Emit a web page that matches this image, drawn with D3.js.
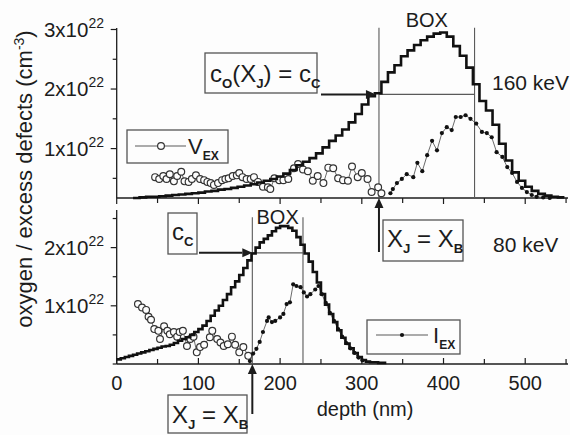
<!DOCTYPE html>
<html><head><meta charset="utf-8">
<script src="https://cdn.jsdelivr.net/npm/d3@7"></script>
<style>
html,body{margin:0;padding:0;background:#fdfdfd;}
svg{display:block;font-family:"Liberation Sans",Arial,Helvetica,sans-serif;}
</style></head><body>
<svg id="chart" width="570" height="435"></svg>
<script>
// ---- data (concentrations in units of 1e22 cm^-3, depth in nm) ----

// oxygen profile, 160 keV implant: stepped bins starting at 20 nm, 8 nm wide
const oxygen160Start = 20, oxygen160Bin = 8;
const oxygen160 = [0.17,0.18,0.19,0.19,0.20,0.21,0.22,0.23,0.24,0.25,
  0.26,0.28,0.29,0.31,0.32,0.34,0.36,0.38,0.40,0.43,
  0.46,0.49,0.53,0.58,0.64,0.72,0.78,0.84,0.92,1.02,
  1.13,1.22,1.32,1.44,1.58,1.74,1.88,1.93,2.12,2.28,
  2.40,2.55,2.65,2.74,2.82,2.88,2.93,2.95,2.88,2.72,
  2.56,2.36,2.08,1.80,1.64,1.40,1.08,0.80,0.60,0.46,
  0.36,0.29,0.24,0.21,0.19,0.18];

// oxygen profile, 80 keV implant: stepped bins starting at 0 nm, 5 nm wide
const oxygen80Start = 0, oxygen80Bin = 5;
const oxygen80 = [0.08,0.10,0.12,0.14,0.16,0.18,0.20,0.22,0.24,0.26,
  0.28,0.30,0.31,0.33,0.36,0.40,0.43,0.46,0.50,0.55,
  0.60,0.66,0.74,0.83,0.92,1.00,1.10,1.20,1.32,1.42,
  1.53,1.65,1.78,1.90,2.00,2.09,2.15,2.21,2.28,2.34,
  2.37,2.37,2.34,2.29,2.18,2.05,1.90,1.76,1.58,1.40,
  1.20,1.02,0.86,0.72,0.58,0.45,0.35,0.27,0.19,0.12,
  0.07,0.04,0.03,0.03,0.02,0.02];

// excess vacancies, 160 keV
const vex160Depth = [47,52,57,61,65,70,74,79,83,88,92,97,102,107,111,115,119,124,129,133,
  137,142,147,150,154,159,164,168,173,179,185,188,193,199,204,210,217,222,228,234,
  240,246,253,259,265,271,277,283,288,295,300,307,312,320,324];
const vex160 = [0.52,0.49,0.54,0.49,0.57,0.45,0.54,0.61,0.45,0.44,0.49,0.55,0.49,0.47,0.44,0.42,0.39,0.42,0.47,0.49,
  0.50,0.54,0.55,0.59,0.52,0.49,0.49,0.52,0.44,0.36,0.35,0.32,0.50,0.47,0.47,0.49,0.67,0.74,0.65,0.62,
  0.46,0.54,0.42,0.68,0.67,0.50,0.47,0.46,0.70,0.52,0.59,0.49,0.27,0.35,0.25];

// excess interstitials, 160 keV
const iex160Depth = [335,338,343,349,355,363,368,374,380,386,392,398,404,410,415,421,427,433,440,447,
  453,459,465,472,478,484,490,496,502,508,514,522,530];
const iex160 = [0.25,0.32,0.42,0.49,0.57,0.52,0.76,0.62,0.89,1.13,0.97,1.26,1.36,1.31,1.53,1.53,1.56,1.50,1.42,1.28,
  1.26,1.19,0.94,0.86,0.69,0.59,0.44,0.34,0.27,0.22,0.19,0.18,0.17];

// excess vacancies, 80 keV
const vex80Depth = [26,31,36,39,42,46,51,53,58,62,65,70,74,77,81,86,90,94,98,102,
  107,114,117,123,127,131,136,141,145,150,155,161];
const vex80 = [1.03,0.97,0.93,0.81,0.76,0.60,0.57,0.43,0.65,0.57,0.51,0.55,0.47,0.55,0.57,0.31,0.43,0.47,0.20,0.29,
  0.33,0.46,0.57,0.43,0.37,0.31,0.34,0.47,0.33,0.20,0.29,0.14];

// excess interstitials, 80 keV
const iex80Depth = [163,167,171,175,179,184,186,190,194,200,204,208,212,216,220,225,229,233,237,243,
  247,251,256,261,266,271,276,281,286,291,296,301];
const iex80 = [0.05,0.18,0.26,0.38,0.55,0.74,0.80,0.72,0.74,0.80,0.86,1.03,1.06,1.37,1.34,1.32,1.23,1.16,1.20,1.28,
  1.34,1.20,1.05,0.88,0.74,0.60,0.47,0.36,0.27,0.19,0.11,0.06];

// buried oxide boundaries (junction depth X_J = X_B) and critical concentration
const box160 = [321, 438];
const box80 = [166, 228];
const cC = 1.91;

// axis ticks
const depthTicks = [0,50,100,150,200,250,300,350,400,450,500,550];
const depthLabels = [0,100,200,300,400,500];
const topTicks = [0.5,1,1.5,2,2.5,3];
const topLabels = [1,2,3];
const botTicks = [0,0.5,1,1.5,2,2.5];
const botLabels = [1,2];

// ---- drawing ----
const svg = d3.select("#chart");
const ink = "#1c1c1c", thin = "#5a5a5a";

const x = d3.scaleLinear().domain([0, 552]).range([116.7, 567.7]);
const yTop = d3.scaleLinear().domain([0.17, 3.0]).range([198, 29.5]);
const yBot = d3.scaleLinear().domain([0, 2.655]).range([364, 209.5]);

// axes
function drawXAxis(y, inward) {
  const g = svg.append("g");
  g.append("line").attr("x1", x(0)).attr("x2", 568).attr("y1", y).attr("y2", y)
    .attr("stroke", ink).attr("stroke-width", 1.3);
  g.selectAll("line.t").data(depthTicks).join("line").attr("class","t")
    .attr("x1", d => x(d)).attr("x2", d => x(d))
    .attr("y1", y).attr("y2", d => y + (inward ? -1 : 1) * (d % 100 === 0 ? 6 : 5))
    .attr("stroke", ink).attr("stroke-width", 1.2);
  return g;
}
function drawYAxis(scale, y0, y1, ticks, labeled) {
  const g = svg.append("g");
  g.append("line").attr("x1", x(0)).attr("x2", x(0)).attr("y1", y0).attr("y2", y1)
    .attr("stroke", ink).attr("stroke-width", 1.3);
  g.selectAll("line.t").data(ticks).join("line").attr("class","t")
    .attr("x1", x(0)).attr("x2", d => x(0) - (labeled.includes(d) ? 6 : 4))
    .attr("y1", d => scale(d)).attr("y2", d => scale(d))
    .attr("stroke", ink).attr("stroke-width", 1.2);
  labeled.forEach(v => {
    const t = g.append("text").attr("x", 104).attr("y", scale(v) + 7)
      .attr("text-anchor", "end").attr("font-size", 20.5).attr("fill", ink);
    t.append("tspan").text(v + "x10");
    t.append("tspan").attr("dy", -9).attr("font-size", 14).text("22");
  });
}

drawXAxis(yTop(0.17), false);
const xb = drawXAxis(yBot(0), true);
xb.selectAll("text").data(depthLabels).join("text")
  .attr("x", d => x(d)).attr("y", 390).attr("text-anchor", "middle")
  .attr("font-size", 20).attr("fill", ink).text(d => d);
drawYAxis(yTop, yTop(0.17), 28, topTicks, topLabels);
drawYAxis(yBot, yBot(0), 210, botTicks, botLabels);

svg.append("text").attr("x", 365).attr("y", 416).attr("text-anchor", "middle")
  .attr("font-size", 20).attr("fill", ink).text("depth (nm)");

const yl = svg.append("text").attr("transform", "translate(32,179) rotate(-90)")
  .attr("text-anchor", "middle").attr("font-size", 22).attr("fill", ink);
yl.append("tspan").text("oxygen / excess defects (cm");
yl.append("tspan").attr("dy", -8).attr("font-size", 14).text("-3");
yl.append("tspan").attr("dy", 8).text(")");

// BOX boundary markers
function boxMarkers(y, box, top, bottom, label, labelY) {
  box.forEach(d => svg.append("line").attr("x1", x(d)).attr("x2", x(d))
    .attr("y1", y(top)).attr("y2", y(bottom)).attr("stroke", thin).attr("stroke-width", 1.1));
  svg.append("line").attr("x1", x(box[0])).attr("x2", x(box[1]))
    .attr("y1", y(cC)).attr("y2", y(cC)).attr("stroke", thin).attr("stroke-width", 1.1);
  svg.append("text").attr("x", (x(box[0]) + x(box[1])) / 2).attr("y", labelY)
    .attr("text-anchor", "middle").attr("font-size", 20).attr("fill", ink).text(label);
}
boxMarkers(yTop, box160, 3.03, 0.17, "BOX", 27);
boxMarkers(yBot, box80, 2.52, 0, "BOX", 224);

// profiles
function stepPoints(start, bin, vals) {
  const pts = vals.map((v, i) => [start + i * bin, v]);
  pts.push([start + vals.length * bin, vals[vals.length - 1]]);
  return pts;
}
function drawProfile(y, pts) {
  svg.append("path").datum(pts)
    .attr("d", d3.line().x(d => x(d[0])).y(d => y(d[1])).curve(d3.curveStepAfter))
    .attr("fill", "none").attr("stroke", "#111").attr("stroke-width", 2.6);
}
function drawSeries(y, depth, vals, open) {
  const pts = depth.map((d, i) => [d, vals[i]]);
  svg.append("path").datum(pts)
    .attr("d", d3.line().x(d => x(d[0])).y(d => y(d[1])))
    .attr("fill", "none").attr("stroke", thin).attr("stroke-width", 0.9);
  svg.append("g").selectAll("circle").data(pts).join("circle")
    .attr("cx", d => x(d[0])).attr("cy", d => y(d[1]))
    .attr("r", open ? 3.4 : 2.1)
    .attr("fill", open ? "#fdfdfd" : "#111")
    .attr("stroke", open ? "#333" : "none").attr("stroke-width", 1.2);
}

drawSeries(yTop, vex160Depth, vex160, true);
drawSeries(yTop, iex160Depth, iex160, false);
drawProfile(yTop, stepPoints(oxygen160Start, oxygen160Bin, oxygen160));

drawSeries(yBot, vex80Depth, vex80, true);
drawSeries(yBot, iex80Depth, iex80, false);
drawProfile(yBot, stepPoints(oxygen80Start, oxygen80Bin, oxygen80));

// arrows
function arrow(x1, y1, x2, y2) {
  const a = Math.atan2(y2 - y1, x2 - x1), L = 10, W = 4.5;
  const bx = x2 - L * Math.cos(a), by = y2 - L * Math.sin(a);
  svg.append("line").attr("x1", x1).attr("y1", y1).attr("x2", bx).attr("y2", by)
    .attr("stroke", ink).attr("stroke-width", 2);
  svg.append("path").attr("d",
    `M${x2},${y2}L${bx - W * Math.sin(a)},${by + W * Math.cos(a)}L${bx + W * Math.sin(a)},${by - W * Math.cos(a)}Z`)
    .attr("fill", ink);
}
arrow(321, yTop(cC), x(box160[0]) - 3, yTop(cC));
arrow(x(box160[0]), 252, x(box160[0]), yTop(0.17));
arrow(199, yBot(cC), x(box80[0]), yBot(cC));
arrow(x(box80[0]), 414, x(box80[0]), yBot(0));

// labelled boxes with subscripts
function rich(xp, yp, parts, size) {
  const t = svg.append("text").attr("x", xp).attr("y", yp).attr("font-size", size).attr("fill", ink);
  let shifted = false;
  parts.forEach(([s, sub]) => {
    const sp = t.append("tspan").text(s);
    if (sub && !shifted) { sp.attr("dy", 6).attr("font-size", size * 0.55).attr("font-weight", "bold"); shifted = true; }
    else if (!sub && shifted) { sp.attr("dy", -6); shifted = false; }
  });
  return t;
}
function frame(x0, y0, w, h) {
  svg.append("rect").attr("x", x0).attr("y", y0).attr("width", w).attr("height", h)
    .attr("fill", "#fdfdfd").attr("stroke", "#555").attr("stroke-width", 1.3);
}

frame(205, 53, 112, 40);
rich(210, 82, [["c"],["O",1],["(X"],["J",1],[") = c"],["C",1]], 24);

frame(383, 220, 80, 41);
rich(387, 247, [["X"],["J",1],[" = X"],["B",1]], 24);

frame(168, 213, 29, 41);
rich(172, 240, [["c"],["C",1]], 24);

frame(168, 395, 79, 38);
rich(172, 423, [["X"],["J",1],[" = X"],["B",1]], 24);

// legends
frame(127, 130, 101, 33);
svg.append("line").attr("x1", 135).attr("x2", 186).attr("y1", 146).attr("y2", 146).attr("stroke", thin).attr("stroke-width", 1.1);
svg.append("circle").attr("cx", 161).attr("cy", 146).attr("r", 3.4).attr("fill", "#fdfdfd").attr("stroke", "#333").attr("stroke-width", 1.2);
rich(188, 154, [["V"],["EX",1]], 22);

frame(367, 320, 93, 34);
svg.append("line").attr("x1", 376).attr("x2", 428).attr("y1", 335).attr("y2", 335).attr("stroke", thin).attr("stroke-width", 1.1);
svg.append("circle").attr("cx", 402).attr("cy", 335).attr("r", 2.1).attr("fill", "#111");
rich(433, 343, [["I"],["EX",1]], 22);

// energies
svg.append("text").attr("x", 492).attr("y", 90).attr("font-size", 21).attr("fill", ink).text("160 keV");
svg.append("text").attr("x", 493).attr("y", 252).attr("font-size", 21).attr("fill", ink).text("80 keV");
</script>
</body></html>
